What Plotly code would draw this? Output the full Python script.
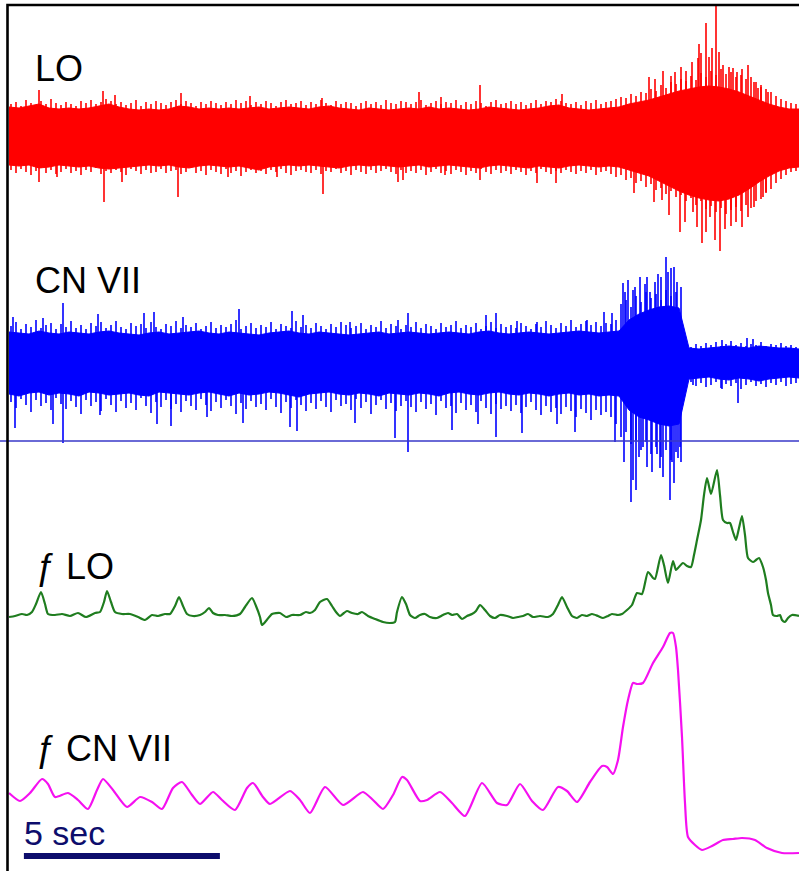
import numpy as np
import plotly.graph_objects as go

FS = 39.2                       # digitisation rate, samples per second
ENV_N = np.arange(0, 800, 10)   # sample index of envelope (dense core) readings
EDGE_N = np.arange(2, 790, 5)   # sample index of edge excursion readings

# LO raw recording: core envelope of the dense trace (a.u.)
LO_TOP = [30, 29, 31, 33, 29, 28, 29, 28, 29, 31,
          33, 30, 28, 27, 28, 27, 28, 31, 30, 28,
          29, 28, 29, 28, 29, 30, 28, 29, 30, 29,
          28, 30, 31, 29, 28, 27, 29, 28, 27, 28,
          29, 28, 30, 28, 29, 28, 27, 28, 30, 29,
          28, 27, 28, 29, 31, 32, 29, 28, 27, 28,
          29, 30, 33, 35, 37, 40, 43, 46, 48, 50,
          51, 50, 48, 45, 41, 37, 33, 30, 28, 28]
LO_BOT = [-28, -29, -28, -31, -30, -28, -29, -30, -29, -31,
          -32, -31, -30, -29, -28, -29, -28, -30, -31, -29,
          -28, -29, -30, -29, -31, -33, -30, -29, -28, -29,
          -28, -29, -30, -31, -29, -28, -29, -28, -29, -30,
          -29, -28, -30, -29, -28, -29, -30, -31, -29, -28,
          -29, -30, -31, -29, -30, -31, -29, -28, -29, -30,
          -29, -30, -33, -36, -39, -44, -49, -54, -58, -61,
          -63, -64, -62, -58, -52, -45, -39, -34, -31, -30]
# LO edge excursions (upper / lower) at EDGE_N
LO_EDGE_TOP = [33, 35, 31, 37, 34, 32, 36, 33, 38, 34,
               32, 35, 33, 31, 36, 34, 37, 33, 35, 38,
               36, 33, 35, 32, 34, 37, 31, 35, 33, 36,
               34, 32, 35, 37, 33, 36, 34, 31, 35, 33,
               36, 34, 32, 35, 33, 37, 34, 36, 32, 35,
               33, 36, 34, 31, 35, 37, 33, 34, 36, 32,
               35, 33, 37, 34, 32, 36, 33, 35, 34, 31,
               34, 36, 33, 35, 32, 37, 34, 33, 36, 35,
               33, 35, 37, 32, 34, 36, 33, 35, 34, 37,
               32, 35, 33, 36, 34, 31, 35, 37, 33, 34,
               36, 33, 35, 32, 34, 37, 33, 36, 35, 38,
               36, 34, 33, 35, 32, 36, 34, 37, 33, 35,
               36, 38, 40, 39, 43, 41, 45, 44, 48, 46,
               52, 49, 55, 53, 58, 56, 61, 57, 64, 60,
               66, 62, 68, 63, 65, 60, 62, 58, 60, 55,
               52, 48, 45, 41, 38, 36, 34, 33]
LO_EDGE_BOT = [-33, -36, -32, -35, -38, -34, -31, -36, -33, -37,
               -35, -32, -36, -34, -38, -33, -35, -31, -37, -34,
               -36, -33, -35, -38, -32, -34, -37, -33, -36, -35,
               -32, -36, -34, -33, -37, -35, -31, -36, -34, -38,
               -33, -35, -37, -32, -36, -34, -39, -35, -33, -36,
               -34, -37, -33, -35, -32, -36, -38, -34, -33, -35,
               -36, -33, -37, -34, -35, -32, -36, -34, -38, -33,
               -35, -37, -33, -36, -34, -32, -35, -37, -33, -36,
               -34, -36, -33, -38, -35, -32, -36, -34, -37, -33,
               -35, -38, -34, -36, -32, -35, -37, -33, -36, -34,
               -37, -33, -35, -38, -34, -36, -32, -35, -37, -34,
               -36, -33, -35, -37, -34, -36, -33, -38, -35, -34,
               -37, -40, -38, -43, -41, -46, -44, -50, -47, -53,
               -51, -57, -54, -60, -58, -64, -61, -68, -64, -72,
               -69, -75, -71, -77, -73, -70, -74, -68, -71, -64,
               -62, -56, -52, -46, -42, -38, -35, -34]
# LO isolated large spikes (sample index, amplitude)
LO_SPIKES = [(30, 47), (94, 46), (106, 42), (172, 44), (241, 41), (313, 39), (410, 45),
             (432, 40), (471, 52), (553, 43), (654, 66), (662, 61), (677, 66), (689, 79),
             (690, 93), (692, 84), (697, 114), (703, 89), (707, 132), (714, 72), (724, 69),
             (733, 68), (739, 72), (749, 49), (759, 45),
             (30, -45), (48, -40), (95, -65), (113, -45), (169, -60), (219, -40), (268, -40),
             (314, -57), (389, -45), (394, -43), (436, -38), (471, -43), (528, -46),
             (547, -46), (625, -56), (653, -63), (671, -95), (684, -75), (693, -106),
             (701, -80), (706, -103), (711, -114), (722, -89), (733, -90), (739, -80),
             (754, -60),
             (640, 60), (646, 58), (666, 65), (672, 70), (683, 75), (700, 80), (710, 85),
             (720, 70), (728, 65), (745, 55), (752, 50),
             (645, -65), (660, -78), (676, -85), (688, -90), (697, -95), (716, -92),
             (727, -85), (745, -70), (757, -55)]

# CN VII raw recording
CN_TOP = [30, 29, 28, 31, 29, 28, 30, 29, 28, 30,
          31, 29, 28, 27, 29, 30, 28, 29, 30, 31,
          29, 28, 30, 29, 28, 27, 29, 30, 31, 29,
          28, 30, 29, 28, 27, 28, 29, 30, 28, 29,
          30, 29, 28, 29, 30, 29, 28, 30, 31, 29,
          28, 29, 30, 29, 28, 29, 30, 31, 30, 29,
          30, 31, 42, 48, 52, 55, 56, 54, 14, 13,
          14, 15, 16, 15, 14, 16, 15, 14, 14, 13]
CN_BOT = [-32, -34, -31, -30, -33, -31, -32, -34, -30, -31,
          -33, -32, -31, -33, -34, -30, -31, -32, -33, -31,
          -30, -32, -34, -31, -33, -32, -30, -31, -33, -35,
          -32, -31, -30, -32, -33, -31, -32, -34, -31, -32,
          -33, -31, -32, -34, -31, -30, -32, -33, -31, -30,
          -32, -33, -31, -32, -34, -32, -31, -33, -32, -34,
          -33, -34, -48, -55, -58, -62, -64, -62, -17, -16,
          -15, -17, -18, -16, -17, -19, -17, -16, -15, -16]
CN_EDGE_TOP = [36, 40, 33, 38, 35, 42, 34, 37, 39, 33,
               38, 35, 41, 34, 37, 33, 39, 36, 40, 34,
               37, 41, 35, 33, 39, 36, 38, 34, 40, 35,
               33, 38, 36, 41, 34, 37, 35, 39, 33, 36,
               40, 34, 37, 35, 38, 42, 33, 36, 39, 34,
               37, 35, 40, 33, 38, 36, 34, 41, 35, 37,
               34, 39, 36, 33, 38, 35, 40, 37, 34, 36,
               39, 33, 37, 35, 41, 34, 38, 36, 33, 37,
               35, 40, 34, 38, 36, 33, 39, 35, 37, 41,
               34, 37, 35, 39, 33, 36, 40, 34, 38, 35,
               37, 34, 39, 36, 33, 38, 35, 41, 37, 34,
               39, 36, 42, 35, 38, 41, 37, 40, 36, 39,
               38, 42, 58, 62, 55, 66, 60, 70, 64, 68,
               62, 72, 66, 70, 75, 17, 15, 18, 16, 19,
               17, 20, 16, 18, 21, 17, 19, 16, 18, 17,
               20, 16, 18, 17, 19, 16, 17, 15]
CN_EDGE_BOT = [-40, -46, -37, -43, -50, -38, -44, -41, -48, -36,
               -42, -47, -39, -45, -52, -38, -44, -40, -49, -37,
               -43, -50, -39, -46, -41, -48, -36, -44, -51, -40,
               -45, -38, -47, -42, -50, -39, -44, -48, -37, -43,
               -49, -40, -46, -38, -44, -52, -41, -47, -39, -45,
               -42, -48, -37, -45, -51, -40, -46, -38, -43, -49,
               -41, -47, -39, -45, -50, -38, -44, -42, -48, -37,
               -46, -40, -52, -43, -38, -47, -41, -49, -44, -39,
               -45, -50, -40, -47, -42, -53, -39, -46, -44, -51,
               -41, -48, -43, -50, -39, -46, -52, -42, -47, -44,
               -49, -43, -51, -45, -40, -48, -53, -44, -50, -46,
               -52, -45, -49, -55, -47, -51, -58, -48, -53, -50,
               -55, -62, -75, -70, -82, -78, -88, -80, -92, -85,
               -95, -88, -98, -90, -100, -22, -20, -24, -21, -25,
               -23, -20, -26, -22, -24, -21, -27, -23, -20, -24,
               -22, -25, -21, -23, -20, -24, -22, -21]
CN_SPIKES = [(4, 45), (34, 44), (54, 59), (89, 48), (135, 49), (145, 50), (174, 45), (230, 53),
             (283, 51), (294, 47), (341, 40), (389, 42), (399, 49), (477, 47), (487, 49),
             (508, 41), (528, 40), (578, 42), (595, 50), (603, 49), (614, 79), (619, 82),
             (624, 72), (631, 85), (638, 85), (646, 80), (652, 85), (657, 105), (662, 94),
             (665, 95), (713, 22), (738, 24), (744, 23),
             (6, -66), (44, -62), (54, -81), (91, -53), (148, -62), (162, -64), (198, -55),
             (234, -61), (281, -65), (288, -69), (346, -61), (386, -76), (399, -90),
             (443, -68), (469, -62), (487, -75), (513, -71), (548, -62), (566, -70),
             (606, -80), (622, -140), (627, -128), (634, -85), (643, -110), (651, -106),
             (661, -138), (665, -121), (669, -96), (684, -23), (713, -27), (729, -41),
             (616, 70), (626, 75), (636, 78), (641, 70), (649, 88), (659, 90), (668, 80),
             (615, -100), (624, -118), (630, -95), (638, -105), (648, -92), (654, -115),
             (663, -100), (671, -85)]
CN_REF_LEVEL = -79

# integrated frequency, LO
FLO_N = [0, 6, 13, 18, 23, 27, 32, 36, 39, 46, 53, 61, 69, 77, 86, 91, 95, 98, 102, 106,
         113, 121, 129, 136, 143, 149, 156, 161, 166, 170, 174, 178, 184, 191, 196, 200,
         204, 209, 216, 223, 231, 236, 243, 247, 251, 253, 257, 263, 271, 277, 283, 291,
         297, 301, 306, 311, 318, 323, 327, 331, 335, 338, 343, 349, 353, 359, 366, 374,
         381, 386, 388, 393, 397, 401, 406, 411, 416, 421, 428, 434, 439, 443, 448, 453,
         458, 463, 467, 471, 476, 481, 486, 491, 498, 504, 509, 514, 519, 524, 531, 539,
         544, 549, 553, 558, 563, 568, 573, 578, 583, 589, 594, 599, 603, 609, 613, 618,
         623, 628, 633, 639, 644, 646, 652, 655, 659, 664, 667, 669, 674, 678, 682, 685,
         688, 692, 695, 698, 702, 708, 711, 714, 718, 721, 724, 727, 730, 733, 736, 739,
         744, 747, 750, 754, 757, 759, 762, 764, 768, 771, 773, 776, 779, 783, 790]
FLO_AMP = [8, 9, 11, 10, 13, 21, 33, 21, 11, 10, 11, 9, 12, 8, 12, 13, 23, 34, 23, 13,
           11, 11, 8, 5, 10, 9, 11, 11, 19, 28, 19, 11, 9, 10, 13, 17,
           12, 10, 10, 9, 11, 18, 27, 19, 8, 0, 4, 11, 12, 8, 10, 10,
           13, 12, 15, 23, 26, 19, 13, 9, 12, 14, 12, 11, 13, 9, 6, 3,
           2, 3, 13, 28, 21, 10, 7, 10, 11, 8, 7, 10, 12, 10, 11, 6,
           9, 11, 14, 20, 15, 9, 7, 10, 9, 7, 8, 9, 11, 8, 9, 8,
           11, 20, 28, 18, 9, 7, 10, 9, 11, 9, 7, 9, 11, 10, 11, 15,
           20, 32, 31, 53, 47, 46, 70, 60, 42, 64, 55, 57, 62, 59, 58, 70,
           85, 105, 130, 147, 131, 155, 130, 105, 102, 102, 93, 85, 97, 109, 90, 67,
           63, 65, 67, 58, 45, 32, 20, 10, 9, 10, 5, 3, 7, 10, 9]

# integrated frequency, CN VII
FCN_N = [0, 11, 21, 33, 39, 46, 59, 69, 79, 88, 94, 104, 118, 131, 143, 153, 164, 173, 183,
         191, 204, 213, 226, 238, 244, 254, 261, 281, 291, 301, 316, 334, 354, 364, 374,
         384, 393, 398, 411, 418, 431, 443, 456, 473, 488, 498, 511, 523, 534, 549, 558,
         568, 581, 593, 598, 604, 609, 614, 619, 624, 628, 634, 644, 654, 661, 664, 667,
         669, 673, 676, 679, 686, 693, 703, 714, 724, 733, 746, 758, 773, 790]
FCN_AMP = [67, 59, 67, 81, 76, 63, 67, 60, 51, 70, 81, 70, 53, 63, 58, 51, 72, 78, 65,
           56, 68, 60, 50, 72, 77, 63, 56, 69, 60, 47, 73, 55, 68, 60, 51,
           65, 83, 80, 59, 60, 68, 57, 44, 77, 57, 55, 76, 59, 50, 73, 69,
           58, 78, 94, 93, 86, 100, 133, 160, 177, 176, 177, 197, 213, 227, 227, 213,
           190, 123, 57, 23, 15, 10, 14, 20, 21, 22, 20, 12, 7, 7]

LABELS = ["LO", "CN VII", "\u0192 LO", "\u0192 CN VII"]
SCALE_BAR_SEC = 5
SCALE_BAR_START = 0.38
SCALE_LABEL = "5 sec"

# ---------------- layout constants ----------------
W, H = 799, 871
X0_PX = 9                        # pixel of t = 0
BASE_PX = [137, 362, 625, 860]   # pixel of amplitude 0 for each row (1 a.u. = 1 px)
RED, BLUE, GREEN, MAGENTA, NAVY = "#ff0000", "#0000ff", "#1f7d1f", "#f510f0", "#0d0d6c"


def px_x(px):
    return px / W


def px_y(py):
    return 1 - py / H


def band(n, top, bot):
    t = np.asarray(n) / FS
    xs = np.concatenate([t, t[::-1]])
    ys = np.concatenate([np.asarray(top), np.asarray(bot)[::-1]])
    return xs, ys


def spikes(pairs):
    xs, ys = [], []
    for n, a in pairs:
        t = n / FS
        xs += [t, t, None]
        ys += [0, a, None]
    return xs, ys


def raw_trace(fig, top, bot, edge_top, edge_bot, spk, color, yaxis):
    bx, by = band(ENV_N, top, bot)
    fig.add_trace(go.Scatter(x=bx, y=by, fill="toself", fillcolor=color, mode="lines",
                             line=dict(color=color, width=1), yaxis=yaxis, hoverinfo="skip"))
    edges = list(zip(EDGE_N, edge_top)) + list(zip(EDGE_N, edge_bot))
    ex, ey = spikes(edges)
    fig.add_trace(go.Scatter(x=ex, y=ey, mode="lines", line=dict(color=color, width=1.6),
                             yaxis=yaxis, hoverinfo="skip"))
    sx, sy = spikes(spk)
    fig.add_trace(go.Scatter(x=sx, y=sy, mode="lines", line=dict(color=color, width=1.6),
                             yaxis=yaxis, hoverinfo="skip"))


fig = go.Figure()
raw_trace(fig, LO_TOP, LO_BOT, LO_EDGE_TOP, LO_EDGE_BOT, LO_SPIKES, RED, "y")
raw_trace(fig, CN_TOP, CN_BOT, CN_EDGE_TOP, CN_EDGE_BOT, CN_SPIKES, BLUE, "y2")
fig.add_trace(go.Scatter(x=[-1, 21], y=[CN_REF_LEVEL, CN_REF_LEVEL], mode="lines",
                         line=dict(color="#3838c8", width=1.5), yaxis="y2", hoverinfo="skip"))

# f LO
fig.add_trace(go.Scatter(x=np.array(FLO_N) / FS, y=FLO_AMP, mode="lines",
                         line=dict(color=GREEN, width=2.2, shape="spline", smoothing=0.6),
                         yaxis="y3", hoverinfo="skip"))
# f CN VII
fig.add_trace(go.Scatter(x=np.array(FCN_N) / FS, y=FCN_AMP, mode="lines",
                         line=dict(color=MAGENTA, width=2.2, shape="spline", smoothing=0.6),
                         yaxis="y4", hoverinfo="skip"))


def yrange(b):
    return [-(H - b), b]


axis_common = dict(visible=False, domain=[0, 1], fixedrange=True)
fig.update_layout(
    width=W, height=H, autosize=False,
    margin=dict(l=0, r=0, t=0, b=0, pad=0),
    paper_bgcolor="white", plot_bgcolor="white", showlegend=False,
    xaxis=dict(visible=False, range=[-X0_PX / FS, (W - X0_PX) / FS], domain=[0, 1]),
    yaxis=dict(range=yrange(BASE_PX[0]), **axis_common),
    yaxis2=dict(range=yrange(BASE_PX[1]), overlaying="y", **axis_common),
    yaxis3=dict(range=yrange(BASE_PX[2]), overlaying="y", **axis_common),
    yaxis4=dict(range=yrange(BASE_PX[3]), overlaying="y", **axis_common),
)

# frame (left and top)
fig.add_shape(type="path", xref="paper", yref="paper",
              path=f"M {px_x(7.5)},{px_y(H + 2)} L {px_x(7.5)},{px_y(5)} L {px_x(W + 2)},{px_y(5)}",
              line=dict(color="black", width=2.6))

# labels
font = dict(family="Liberation Sans, Arial, sans-serif", size=36, color="black")
label_pos = [(33, 68.5), (33, 280.5), (34, 566), (34, 748.5)]
for txt, (lx, ly) in zip(LABELS, label_pos):
    fig.add_annotation(text=txt, xref="paper", yref="paper", x=px_x(lx), y=px_y(ly),
                       xanchor="left", yanchor="middle", showarrow=False, font=font)

# scale bar
fig.add_shape(type="line", xref="x", yref="paper",
              x0=SCALE_BAR_START, x1=SCALE_BAR_START + SCALE_BAR_SEC,
              y0=px_y(856), y1=px_y(856), line=dict(color=NAVY, width=6))
fig.add_annotation(text=SCALE_LABEL, xref="paper", yref="paper", x=px_x(21.5), y=px_y(833),
                   xanchor="left", yanchor="middle", showarrow=False,
                   font=dict(family="Liberation Sans, Arial, sans-serif", size=34, color=NAVY))

fig.write_html("out.html")
